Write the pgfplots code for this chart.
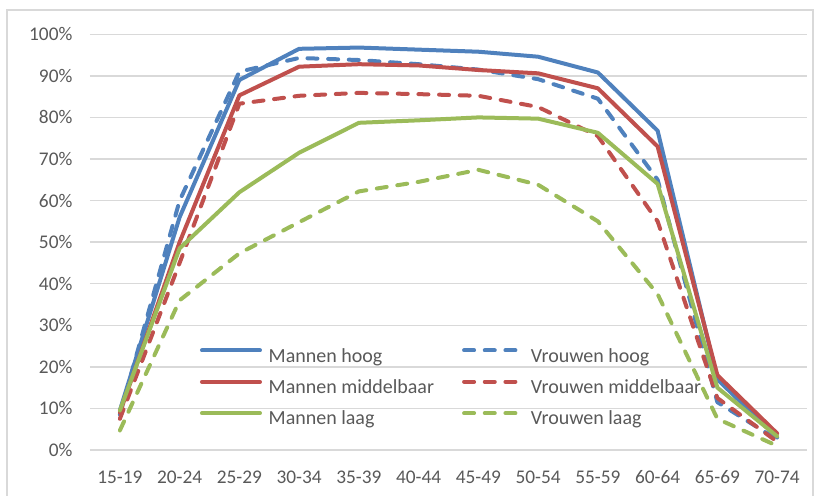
\documentclass[border=0pt]{standalone}
\usepackage{pgfplots}
\pgfplotsset{compat=1.18}
\usepackage{fontspec}
\setmainfont{Carlito}
\definecolor{cblue}{HTML}{4F81BD}
\definecolor{cred}{HTML}{C0504D}
\definecolor{cgreen}{HTML}{9BBB59}
\definecolor{txt}{HTML}{595959}
\definecolor{gridc}{HTML}{D9D9D9}
\begin{document}
\begin{tikzpicture}
\path[use as bounding box] (0,0) rectangle (613.5pt,372pt);
\draw[gridc, line width=0.8pt] (5.25pt,-2pt) -- (5.25pt,364.5pt) -- (609.75pt,364.5pt) -- (609.75pt,-2pt);
\begin{axis}[
  at={(67.5pt,34.5pt)}, anchor=south west,
  scale only axis, width=537.75pt, height=311.8pt,
  xmin=-0.5, xmax=11.5, ymin=0, ymax=100,
  axis line style={draw=none},
  tick style={draw=none},
  ymajorgrids, grid style={gridc, line width=1pt},
  xtick={0,...,11},
  xticklabels={15-19,20-24,25-29,30-34,35-39,40-44,45-49,50-54,55-59,60-64,65-69,70-74},
  ytick={0,10,...,100},
  yticklabels={0\%,10\%,20\%,30\%,40\%,50\%,60\%,70\%,80\%,90\%,100\%},
  xticklabel style={font=\fontsize{14.5}{16}\selectfont, text=txt, anchor=base, inner sep=0pt, yshift=-25.5pt},
  yticklabel style={font=\fontsize{14.5}{16}\selectfont, text=txt, anchor=east, inner sep=0pt, xshift=-13pt},
  clip=false,
  legend columns=2,
  legend cell align=left,
  legend style={draw=none, fill=none, inner sep=0pt, outer sep=0pt,
    at={(0.1534,0.2444)}, anchor=north west,
    font=\fontsize{15}{18}\selectfont, text=txt,
    nodes={inner sep=0pt, text height=10pt, text depth=4pt},
    row sep=9.25pt,
    /tikz/every odd column/.append style={column sep=5pt},
    /tikz/every even column/.append style={column sep=21pt}},
  legend image code/.code={\draw[#1] (0pt,5.8pt) -- (43.5pt,5.8pt);},
  every axis plot/.append style={line width=3pt, line join=round},
  sol/.style={line cap=round},
  dsh/.style={line cap=round, dash pattern=on 7.5pt off 8pt},
]
\addplot[cblue, sol] coordinates {(0,9.5)(1,56)(2,89)(3,96.5)(4,96.8)(5,96.3)(6,95.8)(7,94.6)(8,90.8)(9,76.8)(10,17)(11,3)};
\addlegendentry{Mannen hoog}
\addplot[cblue, dsh] coordinates {(0,8.5)(1,60)(2,91)(3,94.3)(4,93.8)(5,92.8)(6,91.5)(7,89.2)(8,84.5)(9,65)(10,11.5)(11,2.5)};
\addlegendentry{Vrouwen hoog}
\addplot[cred, sol] coordinates {(0,9)(1,50)(2,85.3)(3,92.2)(4,92.8)(5,92.5)(6,91.4)(7,90.6)(8,87)(9,73)(10,18)(11,4)};
\addlegendentry{Mannen middelbaar}
\addplot[cred, dsh] coordinates {(0,7.5)(1,45)(2,83.3)(3,85.2)(4,85.9)(5,85.6)(6,85.2)(7,82.5)(8,75.5)(9,55)(10,12.5)(11,2)};
\addlegendentry{Vrouwen middelbaar}
\addplot[cgreen, sol] coordinates {(0,9.5)(1,48.5)(2,62)(3,71.5)(4,78.7)(5,79.3)(6,80)(7,79.7)(8,76.3)(9,64)(10,15)(11,3.3)};
\addlegendentry{Mannen laag}
\addplot[cgreen, dsh] coordinates {(0,4.7)(1,36)(2,47.3)(3,54.8)(4,62.2)(5,64.5)(6,67.4)(7,63.8)(8,55)(9,37.5)(10,7.5)(11,1)};
\addlegendentry{Vrouwen laag}
\end{axis}
\end{tikzpicture}
\end{document}
